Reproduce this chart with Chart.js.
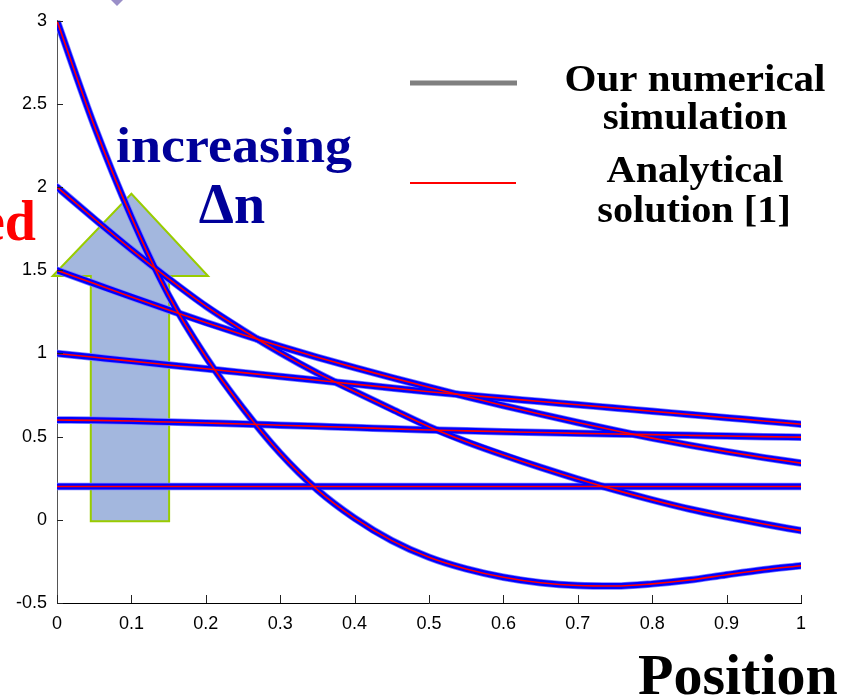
<!DOCTYPE html>
<html><head><meta charset="utf-8">
<script src="https://cdn.jsdelivr.net/npm/chart.js@4.4.1/dist/chart.umd.min.js"></script>
<style>html,body{margin:0;padding:0;background:#fff;overflow:hidden}canvas{display:block}</style>
</head><body>
<canvas id="c" width="844" height="695"></canvas>
<script>
// ---- data ----
const positions = [0,0.05,0.1,0.15,0.2,0.25,0.3,0.35,0.4,0.45,0.5,0.55,0.6,0.65,0.7,0.75,0.8,0.85,0.9,0.95,1];
const curveStart3   = [3.0,2.37,1.82,1.35,0.98,0.67,0.40,0.18,0.01,-0.125,-0.225,-0.295,-0.345,-0.378,-0.395,-0.398,-0.385,-0.362,-0.33,-0.30,-0.276];
const curveStart2   = [2.0,1.81,1.625,1.45,1.285,1.14,1.005,0.882,0.772,0.665,0.56,0.47,0.39,0.315,0.245,0.18,0.12,0.065,0.018,-0.025,-0.065];
const curveStart1_5 = [1.5,1.42,1.34,1.262,1.186,1.113,1.043,0.977,0.915,0.855,0.797,0.741,0.687,0.635,0.585,0.537,0.491,0.449,0.41,0.374,0.341];
const curveStart1   = [1.0,0.977,0.954,0.931,0.908,0.885,0.862,0.839,0.816,0.793,0.77,0.75,0.731,0.711,0.692,0.672,0.653,0.633,0.614,0.594,0.575];
const curveStart0_6 = [0.6,0.598,0.594,0.588,0.582,0.576,0.569,0.562,0.555,0.547,0.54,0.535,0.53,0.525,0.52,0.516,0.512,0.508,0.504,0.50,0.497];
const curveStart0_2 = [0.2,0.2,0.2,0.2,0.2,0.2,0.2,0.2,0.2,0.2,0.2,0.2,0.2,0.2,0.2,0.2,0.2,0.2,0.2,0.2,0.2];
const allCurves = [curveStart3, curveStart2, curveStart1_5, curveStart1, curveStart0_6, curveStart0_2];

const xTickValues = [0,0.1,0.2,0.3,0.4,0.5,0.6,0.7,0.8,0.9,1];
const xTickLabels = ['0','0.1','0.2','0.3','0.4','0.5','0.6','0.7','0.8','0.9','1'];
const yTickValues = [-0.5,0,0.5,1,1.5,2,2.5,3];
const yTickLabels = ['-0.5','0','0.5','1','1.5','2','2.5','3'];
const legendSim = ['Our numerical','simulation'];
const legendAna = ['Analytical','solution [1]'];
const xTitle = 'Position';
const annotation1 = 'increasing';
const annotation2 = '\u0394n';
const cutLabel = 'ed';

// ---- build datasets ----
const datasets = [];
const common = {pointRadius:0, cubicInterpolationMode:'monotone', borderCapStyle:'round', borderJoinStyle:'round', fill:false};
allCurves.forEach((vals, i) => {
  const pts = positions.map((x, k) => ({x, y: vals[k]}));
  datasets.push(Object.assign({label:'analytical '+i, data: pts, borderColor:'#ff0000', borderWidth:1.6, order:0}, common));
  datasets.push(Object.assign({label:'numerical '+i, data: pts, borderColor:'#0000ff', borderWidth:6, order:1}, common));
  datasets.push(Object.assign({label:'halo '+i, data: pts, borderColor:'#7b7bff', borderWidth:7.5, order:2}, common));
});

function stretchText(ctx, text, x, y, sx, align) {
  ctx.save();
  ctx.translate(x, y);
  ctx.scale(sx, 1);
  ctx.textAlign = align || 'center';
  ctx.fillText(text, 0, 0);
  ctx.restore();
}

const decor = {
  id: 'decor',
  beforeDatasetsDraw(chart) {
    const ctx = chart.ctx, xs = chart.scales.x, ys = chart.scales.y;
    const P = (x, y) => [xs.getPixelForValue(x), ys.getPixelForValue(y)];
    const poly = [P(0.0454,-0.008), P(0.0454,1.466), P(-0.0058,1.466), P(0.1,1.96),
                  P(0.203,1.466), P(0.1507,1.466), P(0.1507,-0.008)];
    ctx.save();
    ctx.beginPath();
    poly.forEach((p, i) => i ? ctx.lineTo(p[0], p[1]) : ctx.moveTo(p[0], p[1]));
    ctx.closePath();
    ctx.fillStyle = '#a3b7de';
    ctx.fill();
    ctx.strokeStyle = '#99cc00';
    ctx.lineWidth = 2;
    ctx.stroke();
    ctx.restore();
  },
  afterDraw(chart) {
    const ctx = chart.ctx, xs = chart.scales.x, ys = chart.scales.y, ca = chart.chartArea;
    ctx.save();
    ctx.strokeStyle = '#222';
    ctx.lineWidth = 1;
    xTickValues.forEach(v => {
      const px = Math.round(xs.getPixelForValue(v)) + 0.5;
      ctx.beginPath(); ctx.moveTo(px, ca.bottom); ctx.lineTo(px, ca.bottom - 8); ctx.stroke();
    });
    yTickValues.forEach(v => {
      const py = Math.round(ys.getPixelForValue(v)) + 0.5;
      ctx.beginPath(); ctx.moveTo(ca.left, py); ctx.lineTo(ca.left + 6, py); ctx.stroke();
    });

    ctx.fillStyle = '#9a8fc8';
    ctx.beginPath();
    ctx.moveTo(117, 6); ctx.lineTo(124, -1); ctx.lineTo(117, -8); ctx.lineTo(110, -1); ctx.closePath();
    ctx.fill();

    ctx.lineCap = 'butt';
    ctx.strokeStyle = '#808080'; ctx.lineWidth = 5;
    ctx.beginPath(); ctx.moveTo(410, 83); ctx.lineTo(517, 83); ctx.stroke();
    ctx.strokeStyle = '#ff0000'; ctx.lineWidth = 2;
    ctx.beginPath(); ctx.moveTo(410, 183); ctx.lineTo(516, 183); ctx.stroke();

    ctx.fillStyle = '#000';
    ctx.textBaseline = 'alphabetic';
    ctx.font = 'bold 38px "Liberation Serif"';
    stretchText(ctx, legendSim[0], 695, 91, 1.08);
    stretchText(ctx, legendSim[1], 695, 129, 1.08);
    stretchText(ctx, legendAna[0], 695, 182, 1.06);
    stretchText(ctx, legendAna[1], 694, 222, 1.06);

    ctx.fillStyle = '#000099';
    ctx.font = 'bold 50px "Liberation Serif"';
    stretchText(ctx, annotation1, 234, 162, 1.08);
    ctx.font = 'bold 56px "Liberation Serif"';
    stretchText(ctx, annotation2, 232, 223, 1.0);

    ctx.fillStyle = '#ff0000';
    ctx.font = 'bold 56px "Liberation Serif"';
    stretchText(ctx, cutLabel, 36, 240, 1.0, 'right');

    ctx.fillStyle = '#000';
    ctx.font = 'bold 58px "Liberation Serif"';
    stretchText(ctx, xTitle, 638, 694, 1.0, 'left');
    ctx.restore();
  }
};

new Chart(document.getElementById('c'), {
  type: 'line',
  data: { datasets },
  options: {
    responsive: false,
    animation: false,
    devicePixelRatio: 1,
    layout: { padding: { top: 16, right: 43, left: 0, bottom: 0 } },
    plugins: { legend: { display: false }, tooltip: { enabled: false } },
    scales: {
      x: {
        type: 'linear', min: 0, max: 1,
        afterBuildTicks: s => { s.ticks = xTickValues.map(v => ({value: v})); },
        afterFit: s => { s.height = 92; },
        ticks: {
          padding: 10, color: '#000', maxRotation: 0, autoSkip: false,
          font: { family: '"Liberation Sans", Arial', size: 18 },
          callback: (v, i) => xTickLabels[i]
        },
        grid: { display: true, drawOnChartArea: false, drawTicks: false },
        border: { display: true, color: '#000', width: 1 }
      },
      y: {
        type: 'linear', min: -0.5, max: 3,
        afterBuildTicks: s => { s.ticks = yTickValues.map(v => ({value: v})); },
        afterFit: s => { s.width = 57; },
        ticks: {
          padding: 10, color: '#000', autoSkip: false,
          font: { family: '"Liberation Sans", Arial', size: 18 },
          callback: (v, i) => yTickLabels[i]
        },
        grid: { display: true, drawOnChartArea: false, drawTicks: false },
        border: { display: true, color: '#555', width: 1 }
      }
    }
  },
  plugins: [decor]
});
</script>
</body></html>
